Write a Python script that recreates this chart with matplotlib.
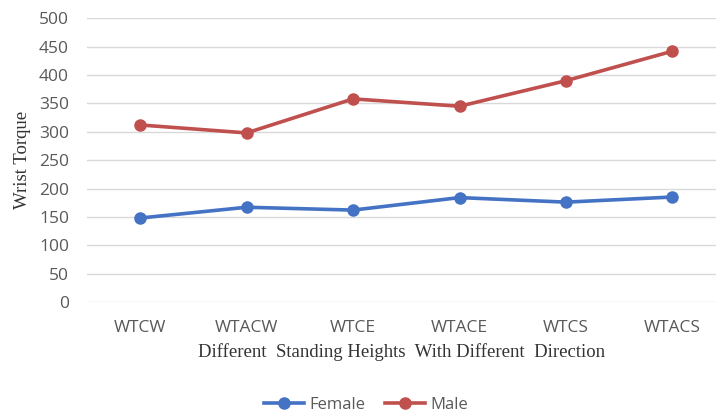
import numpy as np
import matplotlib.pyplot as plt

categorias = ['WTCW', 'WTACW', 'WTCE', 'WTACE', 'WTCS', 'WTACS']
female = [148, 167, 162, 184, 176, 185]
male = [312, 298, 358, 345, 390, 442]
yticks = [0, 50, 100, 150, 200, 250, 300, 350, 400, 450, 500]

azul = '#4472C4'
rojo = '#C0504D'
gris = '#595959'

fig = plt.figure(figsize=(7.16, 4.17), dpi=100)
ax = fig.add_axes([87/716, 1 - 302/417, 629/716, (302 - 18.3)/417])

x = np.arange(len(categorias))
ax.plot(x, female, '-o', color=azul, lw=2.6, ms=8, label='Female')
ax.plot(x, male, '-o', color=rojo, lw=2.6, ms=8, label='Male')

ax.set_xlim(-0.5, 5.41)
ax.set_ylim(0, 500)
ax.set_yticks(yticks)
ax.set_xticks(x)
ax.set_xticklabels(categorias)
ax.grid(axis='y', color='#D9D9D9', lw=1)
ax.set_axisbelow(True)
for s in ax.spines.values():
    s.set_visible(False)
ax.tick_params(length=0, colors=gris, labelsize=12.5, pad=13)
ax.tick_params(axis='x', pad=13)
for t in ax.get_xticklabels() + ax.get_yticklabels():
    t.set_family('Open Sans')

ax.set_ylabel('Wrist Torque', family='Liberation Serif', fontsize=13.5, color='#333333', labelpad=6)
ax.set_xlabel('Different  Standing Heights  With Different  Direction', family='Liberation Serif',
              fontsize=13.5, color='#333333', labelpad=5)

fig.legend(loc='center', bbox_to_anchor=(366/716, 1 - 405/417), ncol=2, frameon=False,
           prop={'family': 'Open Sans', 'size': 12}, labelcolor=gris,
           handlelength=2.4, columnspacing=1.2, handletextpad=0.3)

fig.savefig('out.png', dpi=100)
